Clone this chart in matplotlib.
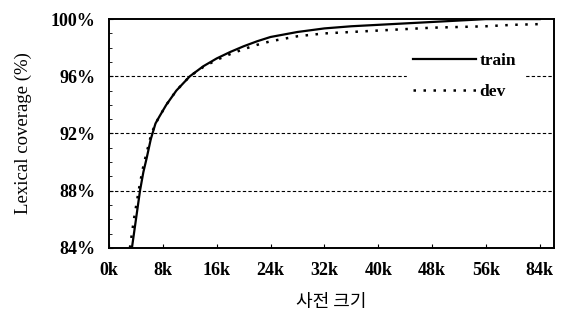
import numpy as np
import matplotlib
matplotlib.use("Agg")
import matplotlib.pyplot as plt

# dictionary size (k words) and lexical coverage (%)
train_x = [3.4, 4.0, 4.6, 5.1, 5.6, 6.2, 6.9, 7.5, 8.5, 10, 12, 14, 16, 18, 20,
           22, 24, 28, 32, 36, 40, 44, 48, 52, 56, 70, 84]
train_y = [84.0, 86.0, 88.0, 89.3, 90.3, 91.6, 92.7, 93.2, 94.0, 95.0, 96.0, 96.7,
           97.25, 97.7, 98.1, 98.45, 98.75, 99.1, 99.35, 99.5, 99.6, 99.7, 99.8,
           99.9, 100.0, 100.0, 100.0]
dev_x = [3.1, 3.7, 4.4, 5.0, 5.5, 6.2, 6.8, 7.5, 8.5, 10, 12, 14, 16, 18, 20,
         22, 24, 28, 32, 36, 40, 44, 48, 52, 56, 70, 84]
dev_y = [84.0, 86.0, 88.0, 89.5, 90.5, 91.8, 92.6, 93.2, 94.0, 95.0, 96.0, 96.65,
         97.15, 97.55, 97.9, 98.2, 98.45, 98.8, 99.0, 99.1, 99.2, 99.3, 99.4,
         99.45, 99.5, 99.6, 99.65]

tick_vals = [0, 8, 16, 24, 32, 40, 48, 56, 84]
tick_labels = ["0k", "8k", "16k", "24k", "32k", "40k", "48k", "56k", "84k"]
y_ticks = [84, 88, 92, 96, 100]


# axis is linear up to 56k, then 56k..84k squeezed into one 8k step
def fwd(x):
    x = np.asarray(x, dtype=float)
    return np.where(x <= 56, x, 56 + (x - 56) * 8 / 28)


def inv(x):
    x = np.asarray(x, dtype=float)
    return np.where(x <= 56, x, 56 + (x - 56) * 28 / 8)


plt.rcParams['font.family'] = ['Liberation Serif', 'Noto Sans CJK KR']

fig = plt.figure(figsize=(5.68, 3.24), dpi=100)
ax = fig.add_axes([0.192, 0.235, 0.783, 0.706])
ax.set_xscale('function', functions=(fwd, inv))

ax.plot(train_x, train_y, color='black', lw=1.6, label='train')
ax.plot(dev_x, dev_y, color='black', lw=1.8, ls=(0, (1, 3)), label='dev')

ax.set_xlim(0, inv(66.1))
ax.set_ylim(84, 100)

for v in [88, 92, 96]:
    ax.axhline(v, color='black', lw=0.8, ls=(0, (3, 2)), zorder=0)

ax.set_xticks(tick_vals)
ax.set_xticklabels(tick_labels, fontsize=13, fontweight='bold')
ax.set_yticks(y_ticks)
ax.set_yticklabels([f"{v}%" for v in y_ticks], fontsize=13, fontweight='bold')
ax.set_yticks(np.arange(84, 100, 1), minor=True)
ax.xaxis.set_minor_locator(matplotlib.ticker.NullLocator())
ax.tick_params(direction='in', length=3, width=0.8, pad=10)
ax.tick_params(axis='y', which='minor', direction='in', length=2, width=0.6)

for s in ax.spines.values():
    s.set_linewidth(1.4)

ax.set_ylabel("Lexical coverage (%)", fontsize=13.5, labelpad=13)
ax.set_xlabel("사전 크기", fontsize=13, labelpad=10,
              family=['Noto Sans CJK KR', 'DejaVu Sans'])

leg = ax.legend(loc='upper right', bbox_to_anchor=(0.95, 0.92), frameon=True,
                fontsize=12.5, handlelength=3.6, handletextpad=0.2,
                labelspacing=0.85, borderpad=0.4)
leg.get_frame().set_edgecolor('white')
leg.get_frame().set_facecolor('white')
leg.get_frame().set_alpha(1)
for t in leg.get_texts():
    t.set_fontweight('bold')

fig.savefig("out.png", dpi=100)
